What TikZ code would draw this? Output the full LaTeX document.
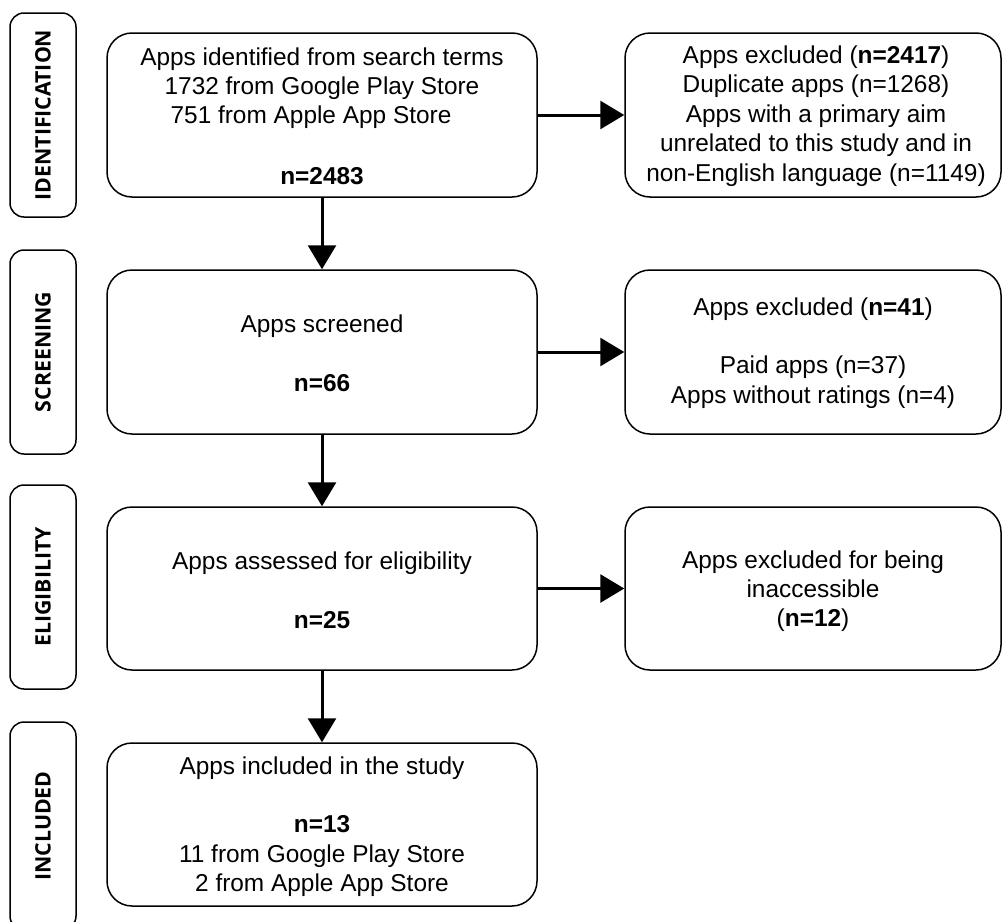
\documentclass[tikz,border=0pt]{standalone}
\usepackage{fontspec}
\setmainfont{Liberation Sans}
\newfontfamily\labfont{Open Sans}
\usetikzlibrary{arrows.meta}
\tikzset{
  mainbox/.style={draw, line width=1.5pt, rounded corners=25pt, inner sep=0pt, minimum width=430pt},
  sidebox/.style={draw, line width=1.5pt, rounded corners=25pt, inner sep=0pt, minimum width=376pt},
  labbox/.style={draw, line width=1.5pt, rounded corners=14pt, inner sep=0pt, rotate=90,
    minimum height=66pt, font=\labfont\bfseries\fontsize{21.3}{24}\selectfont},
  txt/.style={inner sep=0pt, anchor=base, font=\fontsize{24.4}{29.4}\selectfont},
  arr/.style={line width=3pt, -{Triangle[width=28pt,length=24pt]}},
}
\begin{document}
\begin{tikzpicture}[x=1pt,y=-1pt]
\useasboundingbox (0,0) rectangle (1003,921);
% phase labels
\node[labbox, minimum width=204pt] (l1) at (43,115) {IDENTIFICATION};
\node[labbox, minimum width=204pt] (l2) at (43,352) {SCREENING};
\node[labbox, minimum width=204pt] (l3) at (43,587) {ELIGIBILITY};
\node[labbox, minimum width=208pt] (l4) at (43,826) {INCLUDED};
% main boxes
\node[mainbox, minimum height=164pt] (b1) at (322,115) {};
\node[mainbox, minimum height=164pt] (b2) at (322,352) {};
\node[mainbox, minimum height=163pt] (b3) at (322,588.5) {};
\node[mainbox, minimum height=163pt] (b4) at (322,824.5) {};
% side boxes
\node[sidebox, minimum height=164pt] (r1) at (813,115) {};
\node[sidebox, minimum height=164pt] (r2) at (813,352) {};
\node[sidebox, minimum height=163pt] (r3) at (813,588.5) {};
% texts
\node[txt] (t1) at (322,65) {\begin{tabular}[t]{@{}c@{}}
Apps identified from search terms\\
1732 from Google Play Store\\
751 from Apple App Store\hbox to 22pt{}\\[31pt]
\textbf{n=2483}\end{tabular}};
\node[txt] (s1) at (816,63.5) {\begin{tabular}[t]{@{}c@{}}
Apps excluded (\textbf{n=2417})\\
Duplicate apps (n=1268)\\
Apps with a primary aim\\
unrelated to this study and in\\
non-English language (n=1149)\end{tabular}};
\node[txt] (t2) at (322,332.5) {\begin{tabular}[t]{@{}c@{}}
Apps screened\\[29.2pt]
\textbf{n=66}\end{tabular}};
\node[txt] (s2) at (813,315) {\begin{tabular}[t]{@{}c@{}}
Apps excluded (\textbf{n=41})\\[29.4pt]
Paid apps (n=37)\\
Apps without ratings (n=4)\end{tabular}};
\node[txt] (t3) at (322,569.5) {\begin{tabular}[t]{@{}c@{}}
Apps assessed for eligibility\\[29.2pt]
\textbf{n=25}\end{tabular}};
\node[txt] (s3) at (813,568) {\begin{tabular}[t]{@{}c@{}}
Apps excluded for being\\
inaccessible\\
(\textbf{n=12})\end{tabular}};
\node[txt] (t4) at (322,774) {\begin{tabular}[t]{@{}c@{}}
Apps included in the study\\[29.2pt]
\textbf{n=13}\\
11 from Google Play Store\\
2 from Apple App Store\end{tabular}};
% connectors
\draw[arr] (b1.south) -- (b2.north);
\draw[arr] (b2.south) -- (b3.north);
\draw[arr] (b3.south) -- (b4.north);
\draw[arr] (b1.east) -- (r1.west);
\draw[arr] (b2.east) -- (r2.west);
\draw[arr] (b3.east) -- (r3.west);
\end{tikzpicture}
\end{document}
